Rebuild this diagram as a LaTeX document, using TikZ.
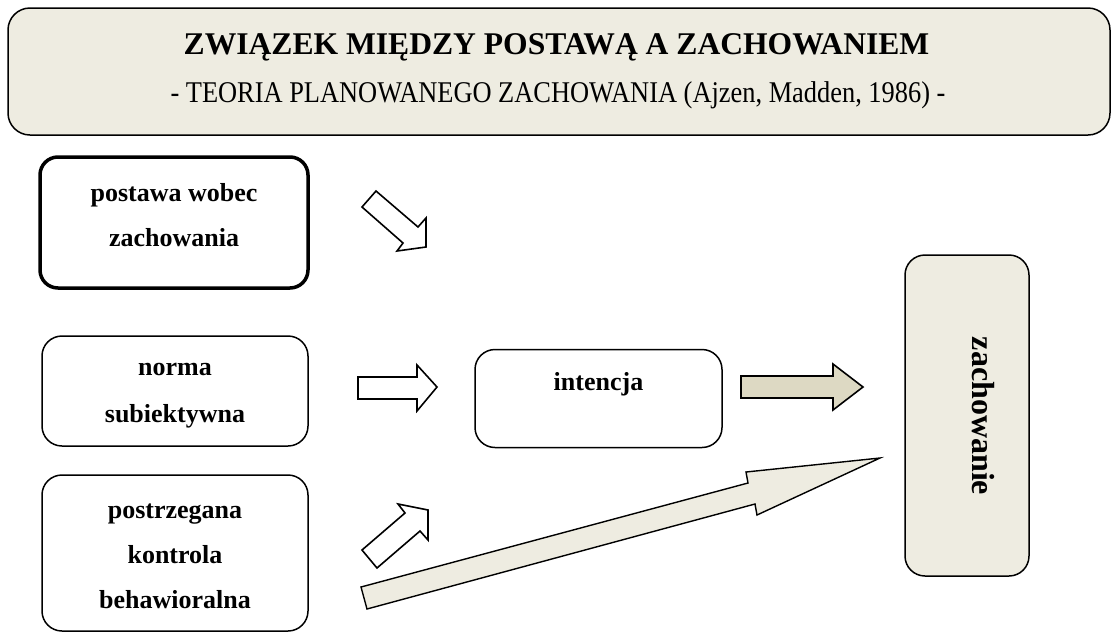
\documentclass[tikz,border=0pt]{standalone}
\usepackage{fontspec}
\usepackage{graphicx}
\setmainfont{Liberation Serif}
\definecolor{beige}{HTML}{EEECE1}
\definecolor{beigedark}{HTML}{DDD9C3}
\tikzset{
  rbox/.style={draw=black, line width=1.5pt, rounded corners=20pt, fill=white, inner sep=0pt},
  blockarrow/.style={draw=black, line width=1.6pt, line join=miter, fill=white},
  boxtext/.style={font=\bfseries\fontsize{26}{30}\selectfont, anchor=base, inner sep=0pt},
}
\begin{document}
\begin{tikzpicture}[x=1pt,y=-1pt]
\useasboundingbox (0,0) rectangle (1114,633);
% title box
\node[draw=black, line width=1.5pt, rounded corners=22pt, fill=beige,
  minimum width=1102pt, minimum height=127pt, inner sep=0pt] (title) at (559,71.5) {};
\node[anchor=base, font=\bfseries\fontsize{31.6}{36}\selectfont, inner sep=0pt] (t1) at (556.5,54) {ZWIĄZEK MIĘDZY POSTAWĄ A ZACHOWANIEM};
\node[anchor=base, font=\fontsize{26.4}{32}\selectfont, inner sep=0pt] (t2) at (558,102) {\scalebox{1}[1.14]{- TEORIA PLANOWANEGO ZACHOWANIA (Ajzen, Madden, 1986) -}};
% left boxes
\node[rbox, line width=3.5pt, rounded corners=18pt, minimum width=268pt, minimum height=131pt] (pw) at (174,222.5) {};
\node[boxtext] (pw1) at (174,201) {postawa wobec};
\node[boxtext] (pw2) at (174,246) {zachowania};
\node[rbox, minimum width=266pt, minimum height=110pt] (ns) at (175,391) {};
\node[boxtext] (ns1) at (175,375) {norma};
\node[boxtext] (ns2) at (175,422) {subiektywna};
\node[rbox, minimum width=266pt, minimum height=156pt] (pk) at (175,553) {};
\node[boxtext] (pk1) at (175,518) {postrzegana};
\node[boxtext] (pk2) at (175,563) {kontrola};
\node[boxtext] (pk3) at (175,608) {behawioralna};
% intencja
\node[rbox, minimum width=247pt, minimum height=98pt] (in) at (598.5,398.5) {};
\node[boxtext] (intxt) at (598.5,390) {intencja};
% zachowanie
\node[draw=black, line width=1.5pt, rounded corners=20pt, fill=beige,
  minimum width=124pt, minimum height=321pt, inner sep=0pt] (za) at (967,415.5) {};
\node[rotate=-90, font=\bfseries\fontsize{32}{36}\selectfont] (zatxt) at (983,416) {zachowanie};
% block arrows
\draw[blockarrow] (362,207) -- (376,191) -- (418,227) -- (426,218) -- (426,247) -- (397,251) -- (403,243) -- cycle;
\draw[blockarrow] (358,377) -- (417,377) -- (417,365) -- (437,387) -- (417,411) -- (417,399) -- (358,399) -- cycle;
\draw[blockarrow] (362,550) -- (405,513) -- (398,504) -- (428,510) -- (428,540) -- (420,531) -- (377,568) -- cycle;
\draw[blockarrow, fill=beigedark] (741,376) -- (833,376) -- (833,364) -- (863,387) -- (833,410) -- (833,398) -- (741,398) -- cycle;
\draw[blockarrow, fill=beige, line width=1.4pt] (361,587) -- (748,483) -- (746,472) -- (880,458) -- (757,515) -- (755,504) -- (367,609) -- cycle;
\end{tikzpicture}
\end{document}
